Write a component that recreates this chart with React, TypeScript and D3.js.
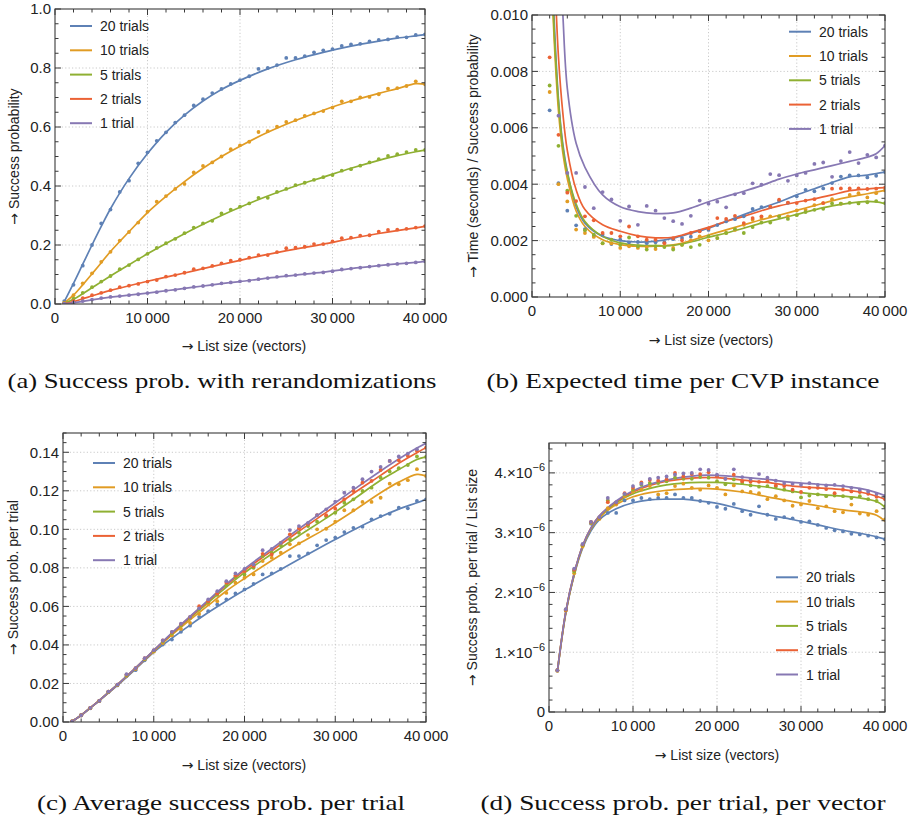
import React from "react";
import * as d3 from "d3";

// ---------------- data ----------------
const SERIES = ["20 trials", "10 trials", "5 trials", "2 trials", "1 trial"];
const COLORS = ["#5E81B5", "#E19C24", "#8FB032", "#EB6235", "#8778B3"];

const LIST_SIZE = [
  1000, 2000, 3000, 4000, 5000, 6000, 7000, 8000, 9000, 10000,
  11000, 12000, 13000, 14000, 15000, 16000, 17000, 18000, 19000, 20000,
  21000, 22000, 23000, 24000, 25000, 26000, 27000, 28000, 29000, 30000,
  31000, 32000, 33000, 34000, 35000, 36000, 37000, 38000, 39000, 40000,
];
const LIST_SIZE_B = LIST_SIZE.slice(1);

const FIT_X = [1000, 2000, 3000, 4000, 5000, 6000, 8000, 10000, 12000, 14000, 16000, 18000, 20000, 23000, 26000, 29000, 32000, 35000, 37000, 39000, 40000];
const FIT_X_B = [2000, 2500, 3000, 3500, 4000, 5000, 6000, 8000, 10000, 12000, 14000, 16000, 18000, 20000, 22000, 24000, 26000, 28000, 30000, 32000, 34000, 36000, 38000, 39000, 40000];

const X_TICKS = [0, 10000, 20000, 30000, 40000];
const X_TICK_LABELS = ["0", "10\u2009000", "20\u2009000", "30\u2009000", "40\u2009000"];

// (a) success probability
const A_BLUE = [0.01, 0.065, 0.13, 0.2, 0.273, 0.32, 0.38, 0.418, 0.477, 0.514, 0.553, 0.582, 0.615, 0.64, 0.673, 0.694, 0.715, 0.729, 0.746, 0.759, 0.772, 0.797, 0.8, 0.81, 0.834, 0.834, 0.84, 0.853, 0.86, 0.864, 0.875, 0.88, 0.882, 0.89, 0.895, 0.897, 0.905, 0.904, 0.912, 0.914];
const A_ORANGE = [0.005, 0.03, 0.07, 0.104, 0.143, 0.177, 0.215, 0.244, 0.276, 0.313, 0.347, 0.366, 0.39, 0.407, 0.446, 0.468, 0.48, 0.5, 0.525, 0.538, 0.55, 0.583, 0.586, 0.601, 0.617, 0.623, 0.638, 0.646, 0.654, 0.666, 0.687, 0.687, 0.7, 0.702, 0.711, 0.73, 0.732, 0.739, 0.755, 0.745];
const A_GREEN = [0.003, 0.018, 0.038, 0.057, 0.076, 0.095, 0.118, 0.132, 0.151, 0.17, 0.19, 0.206, 0.221, 0.24, 0.259, 0.273, 0.282, 0.307, 0.32, 0.33, 0.341, 0.36, 0.36, 0.38, 0.39, 0.403, 0.411, 0.421, 0.43, 0.437, 0.452, 0.457, 0.469, 0.48, 0.491, 0.502, 0.508, 0.515, 0.522, 0.522];
const A_RED = [0.002, 0.01, 0.02, 0.03, 0.038, 0.047, 0.057, 0.062, 0.068, 0.076, 0.081, 0.093, 0.098, 0.106, 0.118, 0.121, 0.129, 0.138, 0.147, 0.15, 0.157, 0.166, 0.166, 0.176, 0.189, 0.191, 0.194, 0.203, 0.203, 0.212, 0.223, 0.225, 0.232, 0.233, 0.245, 0.251, 0.252, 0.255, 0.259, 0.264];
const A_PURPLE = [0.001, 0.005, 0.01, 0.015, 0.02, 0.024, 0.027, 0.03, 0.033, 0.037, 0.04, 0.045, 0.048, 0.053, 0.058, 0.061, 0.065, 0.07, 0.073, 0.077, 0.079, 0.084, 0.088, 0.092, 0.096, 0.098, 0.102, 0.105, 0.107, 0.111, 0.117, 0.12, 0.123, 0.127, 0.13, 0.133, 0.136, 0.138, 0.141, 0.145];

const A_FIT_BLUE = [0.008, 0.07, 0.135, 0.2, 0.263, 0.323, 0.425, 0.51, 0.582, 0.64, 0.688, 0.727, 0.758, 0.797, 0.828, 0.853, 0.874, 0.891, 0.901, 0.909, 0.913];
const A_FIT_ORANGE = [0.004, 0.03, 0.065, 0.102, 0.14, 0.178, 0.245, 0.31, 0.365, 0.415, 0.46, 0.5, 0.535, 0.582, 0.622, 0.657, 0.688, 0.714, 0.73, 0.747, 0.745];
const A_FIT_GREEN = [0.002, 0.016, 0.035, 0.055, 0.075, 0.095, 0.133, 0.17, 0.205, 0.238, 0.27, 0.3, 0.328, 0.366, 0.4, 0.43, 0.46, 0.487, 0.503, 0.516, 0.522];
const A_FIT_RED = [0.001, 0.008, 0.018, 0.027, 0.037, 0.046, 0.062, 0.077, 0.091, 0.105, 0.12, 0.134, 0.148, 0.168, 0.186, 0.203, 0.222, 0.239, 0.249, 0.258, 0.263];
const A_FIT_PURPLE = [0.0005, 0.004, 0.009, 0.014, 0.019, 0.023, 0.03, 0.037, 0.045, 0.053, 0.061, 0.069, 0.076, 0.088, 0.098, 0.108, 0.12, 0.13, 0.136, 0.141, 0.144];

// (b) time / success probability, in units of 0.001 s
const B_BLUE = [6.62, 4.04, 3.06, 2.54, 2.41, 2.16, 2.21, 1.88, 2.03, 1.94, 1.95, 1.91, 1.94, 1.94, 2.05, 2.09, 2.14, 2.34, 2.38, 2.55, 2.68, 2.76, 2.86, 3.12, 3.19, 3.19, 3.41, 3.34, 3.57, 3.8, 3.75, 3.85, 4.04, 4.27, 4.31, 4.31, 4.24, 4.3, 4.43];
const B_ORANGE = [7.27, 4.0, 3.39, 2.39, 2.27, 2.13, 1.9, 1.9, 1.74, 1.8, 1.74, 1.77, 1.7, 1.8, 1.74, 1.85, 2.01, 2.15, 2.01, 2.09, 2.27, 2.38, 2.56, 2.74, 2.8, 2.86, 2.86, 2.86, 3.07, 3.09, 3.26, 3.33, 3.47, 3.31, 3.62, 3.68, 3.53, 3.68, 3.78];
const B_GREEN = [7.5, 5.36, 3.77, 2.88, 2.37, 2.21, 1.91, 2.03, 1.85, 2.11, 1.8, 1.68, 1.8, 1.77, 1.68, 1.85, 1.77, 1.85, 2.15, 2.09, 2.27, 2.41, 2.27, 2.48, 2.64, 2.64, 2.86, 2.77, 2.9, 3.01, 3.09, 3.13, 3.32, 3.31, 3.34, 3.32, 3.36, 3.4, 3.33];
const B_RED = [8.5, 5.75, 3.7, 3.4, 2.86, 2.72, 2.27, 2.27, 2.15, 2.5, 2.15, 2.03, 2.03, 1.91, 2.09, 2.01, 2.27, 2.33, 2.43, 2.8, 2.77, 2.88, 2.62, 2.8, 2.86, 3.2, 3.45, 3.35, 3.33, 3.42, 3.47, 3.33, 3.84, 3.85, 3.85, 3.85, 3.83, 3.84, 3.88];
const B_PURPLE = [null, 6.43, 4.4, 4.4, 3.9, 3.15, 3.72, 3.46, 2.7, 3.21, 2.56, 3.23, 3.06, 2.8, 2.69, 2.59, 2.88, 3.42, 3.31, 3.38, 3.18, 3.64, 3.68, 4.03, 3.98, 4.36, 4.32, 4.12, 4.31, 4.4, 4.72, 4.77, 4.26, 4.82, 5.14, 4.75, 5.04, 4.95, 5.37];

const B_FIT_BLUE = [14, 9.9, 7.0, 5.4, 4.45, 3.2, 2.62, 2.15, 2.0, 1.95, 1.98, 2.09, 2.26, 2.44, 2.68, 2.92, 3.15, 3.37, 3.62, 3.84, 4.06, 4.26, 4.32, 4.38, 4.43];
const B_FIT_ORANGE = [13, 9.2, 6.6, 5.1, 4.2, 3.05, 2.5, 2.03, 1.86, 1.8, 1.8, 1.85, 2.0, 2.2, 2.38, 2.56, 2.74, 2.9, 3.07, 3.24, 3.41, 3.55, 3.66, 3.72, 3.78];
const B_FIT_GREEN = [13.5, 9.5, 6.9, 5.3, 4.4, 3.3, 2.68, 2.15, 1.92, 1.84, 1.82, 1.83, 1.95, 2.12, 2.27, 2.44, 2.62, 2.77, 2.93, 3.09, 3.23, 3.33, 3.39, 3.37, 3.31];
const B_FIT_RED = [16, 12, 8.5, 6.5, 5.2, 3.8, 3.1, 2.56, 2.33, 2.17, 2.1, 2.12, 2.29, 2.47, 2.68, 2.86, 3.06, 3.23, 3.36, 3.48, 3.62, 3.77, 3.83, 3.86, 3.88];
const B_FIT_PURPLE = [25, 18, 13.5, 10, 7.4, 5.45, 4.6, 3.62, 3.2, 3.03, 2.96, 2.98, 3.15, 3.38, 3.57, 3.75, 3.95, 4.18, 4.36, 4.51, 4.66, 4.81, 4.96, 5.08, 5.37];

// (c) success probability per trial
const C_BLUE = [0.0003, 0.0034, 0.0071, 0.0108, 0.0155, 0.019, 0.0237, 0.0269, 0.032, 0.0367, 0.0402, 0.0428, 0.0468, 0.05, 0.0546, 0.0575, 0.061, 0.0636, 0.0667, 0.0688, 0.0717, 0.0766, 0.0771, 0.0795, 0.0861, 0.0861, 0.0875, 0.0917, 0.0944, 0.0957, 0.0986, 0.1008, 0.1014, 0.1052, 0.1069, 0.1081, 0.1112, 0.1109, 0.1147, 0.1156];
const C_ORANGE = [0.0003, 0.0035, 0.0072, 0.011, 0.0156, 0.0192, 0.024, 0.0275, 0.0325, 0.0365, 0.041, 0.045, 0.0483, 0.0515, 0.0561, 0.061, 0.0627, 0.067, 0.0723, 0.0749, 0.0766, 0.0835, 0.0853, 0.0879, 0.0922, 0.0927, 0.097, 0.1, 0.1003, 0.104, 0.1099, 0.1099, 0.1142, 0.1142, 0.1164, 0.1237, 0.1234, 0.1255, 0.1312, 0.1277];
const C_GREEN = [0.0003, 0.0035, 0.0072, 0.011, 0.0157, 0.0193, 0.0244, 0.0278, 0.0328, 0.037, 0.0418, 0.046, 0.0502, 0.054, 0.0586, 0.0622, 0.066, 0.0709, 0.0752, 0.0766, 0.08, 0.0861, 0.0879, 0.0917, 0.0948, 0.0982, 0.1017, 0.104, 0.1066, 0.1086, 0.1138, 0.1156, 0.1199, 0.1216, 0.1268, 0.13, 0.1317, 0.1334, 0.1378, 0.1376];
const C_RED = [0.0003, 0.0035, 0.0073, 0.011, 0.0158, 0.0194, 0.0246, 0.0279, 0.0331, 0.0372, 0.0423, 0.0466, 0.0508, 0.0544, 0.0601, 0.0627, 0.0667, 0.0723, 0.076, 0.0783, 0.0809, 0.0873, 0.087, 0.093, 0.0974, 0.1005, 0.1026, 0.1074, 0.1073, 0.1107, 0.1156, 0.1199, 0.1242, 0.1251, 0.1308, 0.1355, 0.1358, 0.1381, 0.1407, 0.1424];
const C_PURPLE = [0.0003, 0.0035, 0.0073, 0.011, 0.0158, 0.0194, 0.0248, 0.028, 0.0331, 0.0373, 0.0423, 0.0468, 0.051, 0.0546, 0.059, 0.0636, 0.0679, 0.0731, 0.0771, 0.0795, 0.0818, 0.0892, 0.0899, 0.093, 0.0996, 0.1017, 0.1034, 0.1074, 0.1104, 0.1144, 0.119, 0.1216, 0.126, 0.13, 0.1324, 0.1355, 0.1378, 0.1393, 0.1416, 0.1445];

const C_FIT_BLUE = [0.0003, 0.0035, 0.0072, 0.011, 0.015, 0.019, 0.0275, 0.0362, 0.0435, 0.0503, 0.0568, 0.0628, 0.0685, 0.0765, 0.0845, 0.0922, 0.0997, 0.1065, 0.1105, 0.1138, 0.1156];
const C_FIT_ORANGE = [0.0003, 0.0035, 0.0073, 0.0112, 0.0153, 0.0193, 0.0279, 0.0367, 0.0452, 0.053, 0.0605, 0.068, 0.0745, 0.0838, 0.0925, 0.1005, 0.1095, 0.119, 0.1245, 0.1285, 0.1277];
const C_FIT_GREEN = [0.0003, 0.0035, 0.0073, 0.0112, 0.0153, 0.0194, 0.028, 0.037, 0.0458, 0.054, 0.062, 0.07, 0.0775, 0.0872, 0.0967, 0.1058, 0.1155, 0.1255, 0.131, 0.1362, 0.1376];
const C_FIT_RED = [0.0003, 0.0035, 0.0073, 0.0112, 0.0153, 0.0194, 0.0281, 0.0371, 0.046, 0.0545, 0.0628, 0.071, 0.0787, 0.0888, 0.099, 0.1088, 0.1186, 0.128, 0.1343, 0.1398, 0.1424];
const C_FIT_PURPLE = [0.0003, 0.0035, 0.0073, 0.0112, 0.0153, 0.0194, 0.0281, 0.0372, 0.0462, 0.0548, 0.0632, 0.0715, 0.0795, 0.0899, 0.1003, 0.1104, 0.1205, 0.1303, 0.1365, 0.1422, 0.1447];

// (d) success probability per trial / list size, in units of 1e-6
const D_BLUE = [0.69, 1.7, 2.37, 2.79, 3.15, 3.25, 3.33, 3.33, 3.54, 3.54, 3.58, 3.56, 3.58, 3.58, 3.64, 3.58, 3.58, 3.53, 3.5, 3.43, 3.4, 3.48, 3.36, 3.3, 3.44, 3.3, 3.23, 3.26, 3.24, 3.18, 3.19, 3.13, 3.08, 3.04, 3.02, 2.98, 2.97, 2.95, 2.92, 2.89];
const D_ORANGE = [0.69, 1.7, 2.32, 2.77, 3.16, 3.23, 3.41, 3.47, 3.61, 3.69, 3.72, 3.78, 3.64, 3.66, 3.78, 3.82, 3.75, 3.72, 3.79, 3.75, 3.64, 3.79, 3.69, 3.68, 3.66, 3.56, 3.61, 3.54, 3.45, 3.47, 3.53, 3.41, 3.44, 3.36, 3.34, 3.47, 3.32, 3.3, 3.36, 3.22];
const D_GREEN = [0.7, 1.71, 2.35, 2.79, 3.17, 3.24, 3.54, 3.5, 3.64, 3.72, 3.8, 3.83, 3.83, 3.86, 3.92, 3.9, 3.9, 3.93, 3.92, 3.86, 3.81, 3.89, 3.83, 3.79, 3.77, 3.78, 3.77, 3.72, 3.69, 3.59, 3.62, 3.64, 3.61, 3.62, 3.61, 3.58, 3.61, 3.56, 3.53, 3.44];
const D_RED = [0.7, 1.71, 2.38, 2.8, 3.18, 3.25, 3.51, 3.5, 3.66, 3.75, 3.84, 3.88, 3.87, 3.89, 4.0, 3.94, 3.98, 3.98, 4.01, 3.94, 3.9, 3.97, 3.86, 3.85, 3.85, 3.86, 3.79, 3.78, 3.72, 3.68, 3.75, 3.75, 3.73, 3.66, 3.72, 3.69, 3.68, 3.65, 3.6, 3.56];
const D_PURPLE = [0.7, 1.72, 2.4, 2.81, 3.18, 3.26, 3.58, 3.51, 3.65, 3.78, 3.82, 3.9, 3.92, 3.94, 3.97, 3.99, 4.0, 4.06, 4.05, 3.97, 3.9, 4.06, 3.93, 3.9, 3.98, 3.92, 3.87, 3.83, 3.82, 3.8, 3.83, 3.8, 3.79, 3.8, 3.78, 3.75, 3.72, 3.69, 3.65, 3.61];

const D_FIT_BLUE = [0.67, 1.65, 2.29, 2.74, 3.03, 3.22, 3.4, 3.5, 3.55, 3.56, 3.56, 3.53, 3.49, 3.39, 3.3, 3.22, 3.13, 3.04, 2.99, 2.93, 2.89];
const D_FIT_ORANGE = [0.67, 1.66, 2.3, 2.76, 3.06, 3.25, 3.47, 3.6, 3.67, 3.71, 3.73, 3.74, 3.73, 3.68, 3.6, 3.52, 3.45, 3.38, 3.35, 3.29, 3.19];
const D_FIT_GREEN = [0.68, 1.67, 2.31, 2.77, 3.07, 3.27, 3.5, 3.65, 3.74, 3.8, 3.83, 3.84, 3.84, 3.81, 3.76, 3.69, 3.64, 3.61, 3.58, 3.52, 3.43];
const D_FIT_RED = [0.68, 1.68, 2.32, 2.78, 3.08, 3.28, 3.52, 3.68, 3.79, 3.86, 3.9, 3.92, 3.92, 3.88, 3.84, 3.78, 3.75, 3.72, 3.68, 3.61, 3.56];
const D_FIT_PURPLE = [0.68, 1.68, 2.32, 2.78, 3.08, 3.28, 3.53, 3.7, 3.81, 3.88, 3.93, 3.96, 3.96, 3.93, 3.89, 3.84, 3.81, 3.78, 3.74, 3.67, 3.62];

// ---------------- drawing ----------------
const SANS = "'Liberation Sans', Arial, Helvetica, sans-serif";
const SERIF = "'Liberation Serif', 'Times New Roman', serif";
const FRAME = "#3a3a3a";

type PanelProps = {
  id: string;
  box: { x0: number; x1: number; y0: number; y1: number };
  yMax: number;
  yMajor: number[];
  yLabel: (v: number, i: number) => React.ReactNode;
  yMinorStep: number;
  dotX: number[];
  dots: (number | null)[][];
  fitX: number[];
  fits: number[][];
  legend: { lx: number; ly: number };
  xTitle: { x: number; y: number };
  yTitle: { x: number; text: string };
  caption: { x: number; y: number; text: string; len: number };
};

const Arrow = () => <tspan fontFamily="'DejaVu Sans', sans-serif">→</tspan>;

function Panel(p: PanelProps) {
  const { x0, x1, y0, y1 } = p.box;
  const xs = d3.scaleLinear().domain([0, 40000]).range([x0, x1]);
  const ys = d3.scaleLinear().domain([0, p.yMax]).range([y1, y0]);
  const xMinor = d3.range(0, 40001, 2000).filter((v) => !X_TICKS.includes(v));
  const yMinor = d3
    .range(0, p.yMax + p.yMinorStep / 2, p.yMinorStep)
    .filter((v) => !p.yMajor.some((m) => Math.abs(m - v) < p.yMinorStep / 10));
  const MAJ = 6;
  const MIN = 3.5;
  const clipId = `clip-${p.id}`;
  const line = (xsArr: number[]) =>
    d3
      .line<number>()
      .x((_, i) => xs(xsArr[i]))
      .y((v) => ys(v))
      .curve(d3.curveCatmullRom.alpha(0.5));

  return (
    <g>
      <defs>
        <clipPath id={clipId}>
          <rect x={x0} y={y0} width={x1 - x0} height={y1 - y0} />
        </clipPath>
      </defs>
      {/* grid */}
      <g stroke="#c4c4c4" strokeWidth={0.9} strokeDasharray="1.2,2.2">
        {X_TICKS.slice(1, -1).map((t) => (
          <line key={"gx" + t} x1={xs(t)} x2={xs(t)} y1={y0} y2={y1} />
        ))}
        {p.yMajor
          .filter((t) => t > 0 && t < p.yMax - 1e-12)
          .map((t) => (
            <line key={"gy" + t} x1={x0} x2={x1} y1={ys(t)} y2={ys(t)} />
          ))}
      </g>
      {/* fitted lines */}
      <g clipPath={`url(#${clipId})`} fill="none" strokeWidth={1.7}>
        {p.fits.map((f, si) => (
          <path key={"f" + si} d={line(p.fitX)(f) || ""} stroke={COLORS[si]} />
        ))}
      </g>
      {/* dots */}
      <g clipPath={`url(#${clipId})`}>
        {p.dots.map((s, si) =>
          s.map((v, i) =>
            v == null ? null : (
              <circle key={`d${si}-${i}`} cx={xs(p.dotX[i])} cy={ys(v)} r={1.9} fill={COLORS[si]} />
            )
          )
        )}
      </g>
      {/* frame */}
      <rect x={x0} y={y0} width={x1 - x0} height={y1 - y0} fill="none" stroke={FRAME} strokeWidth={1.1} />
      {/* ticks */}
      <g stroke={FRAME} strokeWidth={1}>
        {X_TICKS.map((t) => (
          <g key={"xt" + t}>
            <line x1={xs(t)} x2={xs(t)} y1={y1} y2={y1 - MAJ} />
            <line x1={xs(t)} x2={xs(t)} y1={y0} y2={y0 + MAJ} />
          </g>
        ))}
        {xMinor.map((t) => (
          <g key={"xm" + t}>
            <line x1={xs(t)} x2={xs(t)} y1={y1} y2={y1 - MIN} />
            <line x1={xs(t)} x2={xs(t)} y1={y0} y2={y0 + MIN} />
          </g>
        ))}
        {p.yMajor.map((t) => (
          <g key={"yt" + t}>
            <line x1={x0} x2={x0 + MAJ} y1={ys(t)} y2={ys(t)} />
            <line x1={x1} x2={x1 - MAJ} y1={ys(t)} y2={ys(t)} />
          </g>
        ))}
        {yMinor.map((t) => (
          <g key={"ym" + t}>
            <line x1={x0} x2={x0 + MIN} y1={ys(t)} y2={ys(t)} />
            <line x1={x1} x2={x1 - MIN} y1={ys(t)} y2={ys(t)} />
          </g>
        ))}
      </g>
      {/* tick labels */}
      <g fontFamily={SANS} fontSize={15} fill="#222">
        {X_TICKS.map((t, i) => (
          <text key={"xl" + t} x={xs(t)} y={y1 + 19} textAnchor="middle">
            {X_TICK_LABELS[i]}
          </text>
        ))}
        {p.yMajor.map((t, i) => (
          <text key={"yl" + t} x={x0 - 4} y={ys(t)} dy="0.36em" textAnchor="end">
            {p.yLabel(t, i)}
          </text>
        ))}
      </g>
      {/* axis titles */}
      <text x={p.xTitle.x} y={p.xTitle.y} textAnchor="middle" fontFamily={SANS} fontSize={14} fill="#222">
        <Arrow /> List size (vectors)
      </text>
      <text
        transform={`translate(${p.yTitle.x},${(y0 + y1) / 2}) rotate(-90)`}
        textAnchor="middle"
        fontFamily={SANS}
        fontSize={14}
        fill="#222"
      >
        <Arrow /> {p.yTitle.text}
      </text>
      {/* legend */}
      <g fontFamily={SANS} fontSize={14} fill="#222">
        {SERIES.map((s, i) => {
          const y = p.legend.ly + i * 24.3;
          return (
            <g key={"lg" + i}>
              <line x1={p.legend.lx} x2={p.legend.lx + 22} y1={y} y2={y} stroke={COLORS[i]} strokeWidth={2} />
              <text x={p.legend.lx + 30} y={y} dy="0.36em">
                {s}
              </text>
            </g>
          );
        })}
      </g>
      {/* caption */}
      <text
        x={p.caption.x}
        y={p.caption.y}
        textAnchor="middle"
        fontFamily={SERIF}
        fontSize={22}
        fill="#111"
        textLength={p.caption.len}
        lengthAdjust="spacingAndGlyphs"
      >
        {p.caption.text}
      </text>
    </g>
  );
}

const sci = (v: number) =>
  v === 0 ? (
    "0"
  ) : (
    <>
      {`${v}.×10`}
      <tspan fontSize={11} dy={-7}>
        −6
      </tspan>
    </>
  );

export default function App() {
  return (
    <div style={{ position: "absolute", left: 0, top: 0 }}>
      <svg width={913} height={824} viewBox="0 0 913 824" style={{ display: "block", background: "#fff" }}>
        <Panel
          id="a"
          box={{ x0: 55, x1: 425, y0: 9, y1: 304 }}
          yMax={1}
          yMajor={[0, 0.2, 0.4, 0.6, 0.8, 1.0]}
          yLabel={(v) => v.toFixed(1)}
          yMinorStep={0.05}
          dotX={LIST_SIZE}
          dots={[A_BLUE, A_ORANGE, A_GREEN, A_RED, A_PURPLE]}
          fitX={FIT_X}
          fits={[A_FIT_BLUE, A_FIT_ORANGE, A_FIT_GREEN, A_FIT_RED, A_FIT_PURPLE]}
          legend={{ lx: 70, ly: 26 }}
          xTitle={{ x: 244, y: 351 }}
          yTitle={{ x: 19, text: "Success probability" }}
          caption={{ x: 222, y: 388, text: "(a) Success prob. with rerandomizations", len: 429 }}
        />
        <Panel
          id="b"
          box={{ x0: 532, x1: 885, y0: 15, y1: 297 }}
          yMax={10}
          yMajor={[0, 2, 4, 6, 8, 10]}
          yLabel={(v) => (v * 0.001).toFixed(3)}
          yMinorStep={0.5}
          dotX={LIST_SIZE_B}
          dots={[B_BLUE, B_ORANGE, B_GREEN, B_RED, B_PURPLE]}
          fitX={FIT_X_B}
          fits={[B_FIT_BLUE, B_FIT_ORANGE, B_FIT_GREEN, B_FIT_RED, B_FIT_PURPLE]}
          legend={{ lx: 789, ly: 31.7 }}
          xTitle={{ x: 711, y: 345 }}
          yTitle={{ x: 478, text: "Time (seconds) / Success probability" }}
          caption={{ x: 683, y: 388, text: "(b) Expected time per CVP instance", len: 393 }}
        />
        <Panel
          id="c"
          box={{ x0: 63, x1: 426, y0: 433, y1: 722 }}
          yMax={0.15}
          yMajor={[0, 0.02, 0.04, 0.06, 0.08, 0.1, 0.12, 0.14]}
          yLabel={(v) => v.toFixed(2)}
          yMinorStep={0.005}
          dotX={LIST_SIZE}
          dots={[C_BLUE, C_ORANGE, C_GREEN, C_RED, C_PURPLE]}
          fitX={FIT_X}
          fits={[C_FIT_BLUE, C_FIT_ORANGE, C_FIT_GREEN, C_FIT_RED, C_FIT_PURPLE]}
          legend={{ lx: 93, ly: 463 }}
          xTitle={{ x: 244, y: 770 }}
          yTitle={{ x: 18, text: "Success prob. per trial" }}
          caption={{ x: 221, y: 810, text: "(c) Average success prob. per trial", len: 368 }}
        />
        <Panel
          id="d"
          box={{ x0: 549, x1: 885, y0: 443, y1: 712 }}
          yMax={4.5}
          yMajor={[0, 1, 2, 3, 4]}
          yLabel={(v) => sci(v)}
          yMinorStep={0.2}
          dotX={LIST_SIZE}
          dots={[D_BLUE, D_ORANGE, D_GREEN, D_RED, D_PURPLE]}
          fitX={FIT_X}
          fits={[D_FIT_BLUE, D_FIT_ORANGE, D_FIT_GREEN, D_FIT_RED, D_FIT_PURPLE]}
          legend={{ lx: 776, ly: 577.3 }}
          xTitle={{ x: 717, y: 760 }}
          yTitle={{ x: 477, text: "Success prob. per trial / List size" }}
          caption={{ x: 683, y: 810, text: "(d) Success prob. per trial, per vector", len: 405 }}
        />
      </svg>
    </div>
  );
}
